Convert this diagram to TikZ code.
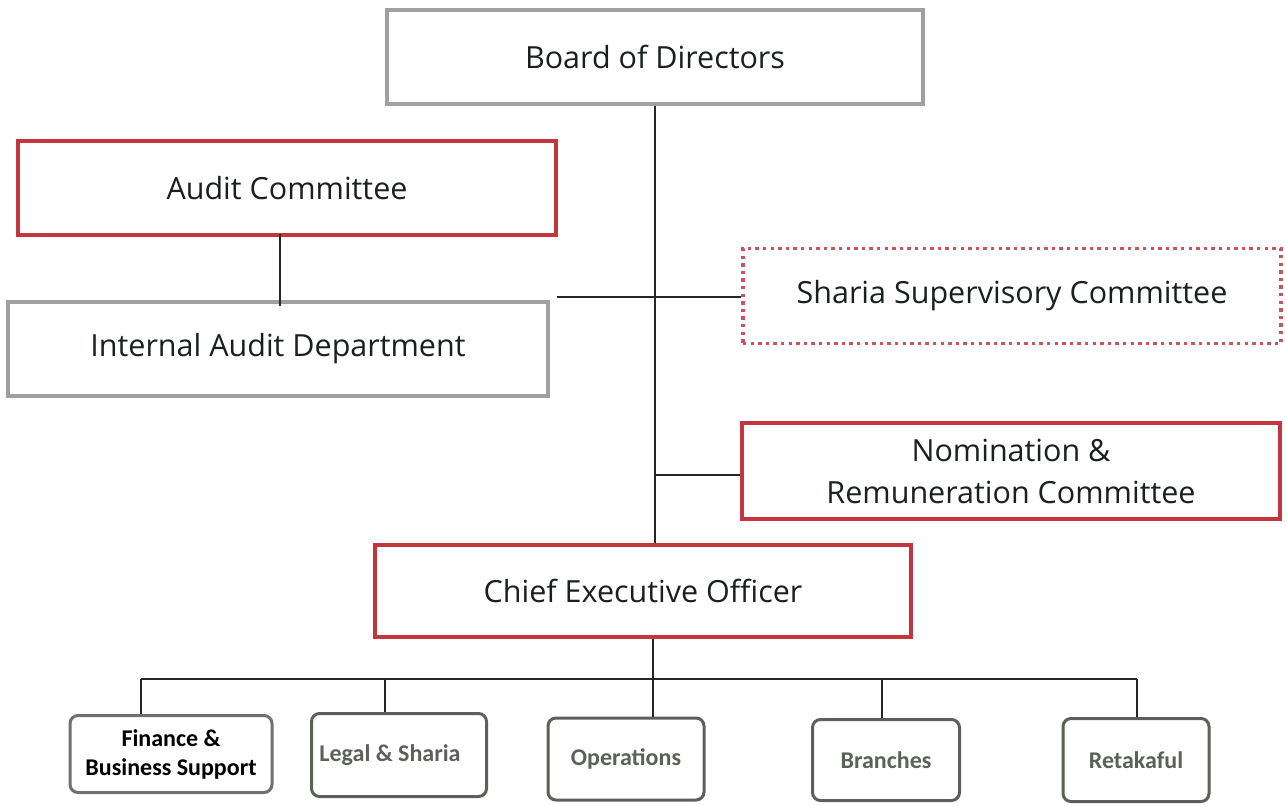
\documentclass[tikz,border=0pt]{standalone}
\usepackage{fontspec}
\setmainfont{Open Sans}
\newfontfamily\boxfont{Carlito}
\definecolor{boxgray}{HTML}{A0A0A0}
\definecolor{boxred}{HTML}{C3363E}
\definecolor{dotred}{HTML}{C9545A}
\definecolor{deptgray}{HTML}{5B6159}
\definecolor{fingray}{HTML}{707070}
\definecolor{txt}{HTML}{1A201C}
\tikzset{
  base/.style={rectangle, minimum width=#1, inner sep=0pt, text=txt, font=\fontsize{30.5}{42}\selectfont, align=center},
  graybox/.style={base=536pt, draw=boxgray, line width=3.2pt, minimum height=94pt},
  redbox/.style={base=536pt, draw=boxred, line width=3.6pt, minimum height=94pt},
  dotbox/.style={base=538pt, draw=dotred, line width=3.4pt, dash pattern=on 3.4pt off 4.2pt, minimum height=95pt},
  dept/.style={rectangle, rounded corners=8pt, draw=deptgray, line width=3pt, inner sep=0pt, text=deptgray, font=\boxfont\bfseries\fontsize{24}{29}\selectfont, align=center},
  conn/.style={draw=black!85, line width=1.3pt},
}
\begin{document}
\begin{tikzpicture}[x=1pt,y=-1pt]
\useasboundingbox (0,0) rectangle (1285,804);
\fill[white] (0,0) rectangle (1285,804);
\node[graybox] (board) at (655,57) {Board of Directors};
\node[redbox, minimum width=538pt] (audit) at (287,188) {Audit Committee};
\node[graybox, minimum width=540pt] (iad) at (278,349) {Internal Audit Department};
\node[dotbox] (sharia) at (1012,296) {Sharia Supervisory Committee};
\node[redbox, minimum width=538pt, minimum height=96pt] (nom) at (1011,471) {Nomination \&\\Remuneration Committee};
\node[redbox, minimum height=92pt] (ceo) at (643,591) {Chief Executive Officer};
\node[dept, draw=fingray, text=black, minimum width=202pt, minimum height=77pt] (fin) at (171,754) {Finance \&\\Business Support};
\node[dept, minimum width=175pt, minimum height=83pt] (legal) at (399,755) {Legal \& Sharia\hspace*{18pt}};
\node[dept, minimum width=156pt, minimum height=82pt] (ops) at (626,759) {Operations};
\node[dept, minimum width=147pt, minimum height=81pt] (br) at (886,760) {Branches};
\node[dept, minimum width=146pt, minimum height=83pt] (ret) at (1136,760) {Retakaful};
% connectors
\coordinate (spine) at (655,297);
\coordinate (iadend) at (557,297);
\coordinate (nomj) at (655,475);
\coordinate (bus) at (653,679);
\coordinate (busL) at (141,679);
\coordinate (busR) at (1137,679);
\draw[conn] (board.south -| spine) -- (ceo.north -| spine);
\draw[conn] (iadend) -- (sharia.west |- spine);
\draw[conn] (nomj) -- (nom.west |- nomj);
\draw[conn] ([yshift=3pt]audit.south -| 280,0) -- ([yshift=-6pt]iad.north -| 280,0);
\draw[conn] (ceo.south -| bus) -- (bus);
\draw[conn] (busL) -- (busR);
\draw[conn] (busL) -- (fin.north -| busL);
\draw[conn] (385,679) -- (legal.north -| 385,0);
\draw[conn] (bus) -- (ops.north -| bus);
\draw[conn] (882,679) -- (br.north -| 882,0);
\draw[conn] (busR) -- (ret.north -| busR);
\end{tikzpicture}
\end{document}
